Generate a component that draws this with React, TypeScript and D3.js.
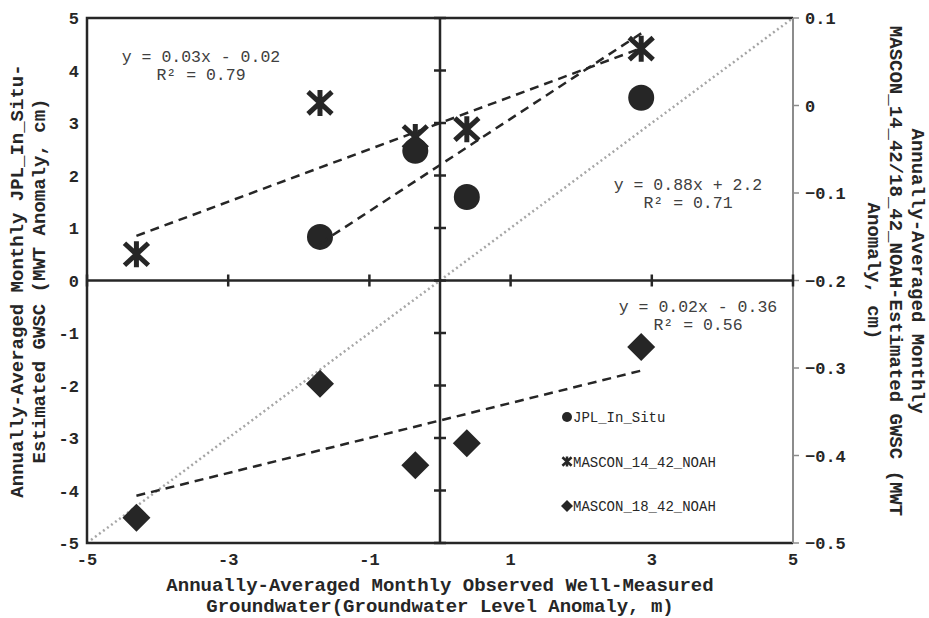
import React, { useEffect, useRef } from 'react';
import * as d3 from 'd3';

// observed groundwater anomaly (m) for each of the five years
const obsX = [-4.3, -1.7, -0.35, 0.38, 2.85];
// JPL in-situ has no value for the first year
const jplX = [-1.7, -0.35, 0.38, 2.85];
const jplY = [0.83, 2.47, 1.59, 3.48];
const mascon14 = [-0.17, 0.003, -0.036, -0.027, 0.065];
const mascon18 = [-0.471, -0.318, -0.411, -0.386, -0.276];

// trendline coefficients as printed on the chart
const jplFit = [0.88, 2.2];
const m14Fit = [0.03, -0.02];
const m18Fit = [0.02, -0.36];

const xTicks = [-5, -3, -1, 1, 3, 5];
const yTicks = [5, 4, 3, 2, 1, 0, -1, -2, -3, -4, -5];
const y2Ticks = [0.1, 0, -0.1, -0.2, -0.3, -0.4, -0.5];

const legendNames = ['JPL_In_Situ', 'MASCON_14_42_NOAH', 'MASCON_18_42_NOAH'];

const FONT = "'Courier New', 'Liberation Mono', monospace";
const INK = '#262626';

function starPath(s: number) {
  const h = s * 0.92;
  return `M0,${-s}L0,${s}M${-h},${-h * 0.92}L${h},${h * 0.92}M${-h},${h * 0.92}L${h},${-h * 0.92}`;
}

function ScatterChart() {
  const ref = useRef<SVGSVGElement>(null);

  useEffect(() => {
    const svg = d3.select(ref.current);
    svg.selectAll('*').remove();

    const left = 87, right = 793, top = 18, bottom = 543;

    const x = d3.scaleLinear().domain([-5, 5]).range([left, right]);
    const y = d3.scaleLinear().domain([-5, 5]).range([bottom, top]);
    const y2 = d3.scaleLinear().domain([-0.5, 0.1]).range([bottom, top]);

    // 1:1 line
    svg.append('line')
      .attr('x1', x(-5)).attr('y1', y(-5))
      .attr('x2', x(5)).attr('y2', y(5))
      .attr('stroke', '#a6a6a6')
      .attr('stroke-width', 2.5)
      .attr('stroke-dasharray', '2,3');

    // frame
    svg.append('path')
      .attr('d', `M${right},${top}H${left}V${bottom}H${right}`)
      .attr('fill', 'none')
      .attr('stroke', INK)
      .attr('stroke-width', 2.5);

    // secondary axis (grey, ticks outside)
    svg.append('line')
      .attr('x1', right).attr('x2', right)
      .attr('y1', top).attr('y2', bottom)
      .attr('stroke', '#8c8c8c').attr('stroke-width', 2);
    svg.append('g')
      .selectAll('line')
      .data(y2Ticks)
      .enter()
        .append('line')
        .attr('x1', right).attr('x2', right + 6)
        .attr('y1', d => y2(d)).attr('y2', d => y2(d))
        .attr('stroke', '#8c8c8c').attr('stroke-width', 1.5);

    // axes crossing at zero
    svg.append('line')
      .attr('x1', left).attr('x2', right)
      .attr('y1', y(0)).attr('y2', y(0))
      .attr('stroke', INK).attr('stroke-width', 2.5);
    svg.append('line')
      .attr('x1', x(0)).attr('x2', x(0))
      .attr('y1', top).attr('y2', bottom)
      .attr('stroke', INK).attr('stroke-width', 2.5);

    svg.append('g')
      .selectAll('line')
      .data(xTicks)
      .enter()
        .append('line')
        .attr('x1', d => x(d)).attr('x2', d => x(d))
        .attr('y1', y(0) - 6).attr('y2', y(0) + 6)
        .attr('stroke', INK).attr('stroke-width', 2.5);
    svg.append('g')
      .selectAll('line')
      .data(yTicks)
      .enter()
        .append('line')
        .attr('x1', x(0) - 6).attr('x2', x(0) + 6)
        .attr('y1', d => y(d)).attr('y2', d => y(d))
        .attr('stroke', INK).attr('stroke-width', 2.5);

    // tick labels
    const tickText = (g: any) => g
      .attr('font-family', FONT)
      .attr('font-weight', 'bold')
      .attr('font-size', 17)
      .attr('fill', INK);

    svg.append('g').call(tickText)
      .selectAll('text')
      .data(xTicks)
      .enter()
        .append('text')
        .attr('x', d => x(d))
        .attr('y', bottom + 22)
        .attr('text-anchor', 'middle')
        .text(d => String(d));

    svg.append('g').call(tickText)
      .selectAll('text')
      .data(yTicks)
      .enter()
        .append('text')
        .attr('x', left - 8)
        .attr('y', d => y(d) + 6)
        .attr('text-anchor', 'end')
        .text(d => String(d));

    svg.append('g').call(tickText)
      .selectAll('text')
      .data(y2Ticks)
      .enter()
        .append('text')
        .attr('x', right + 12)
        .attr('y', d => y2(d) + 6)
        .text(d => d3.format('.1~f')(d));

    // trendlines
    const dashed = (fit: number[], xs: number[], sy: any) => {
      const [x0, x1] = d3.extent(xs) as [number, number];
      const line = d3.line<number>()
        .x(d => x(d))
        .y(d => sy(fit[0] * d + fit[1]));
      svg.append('path')
        .attr('d', line([x0, x1]))
        .attr('fill', 'none')
        .attr('stroke', INK)
        .attr('stroke-width', 2.5)
        .attr('stroke-dasharray', '9,6');
    };

    // MASCON 18 diamonds (secondary axis)
    svg.append('g')
      .selectAll('path')
      .data(mascon18)
      .enter()
        .append('path')
        .attr('transform', (d, i) => `translate(${x(obsX[i])},${y2(d)})`)
        .attr('d', 'M0,-14L14,0L0,14L-14,0Z')
        .attr('fill', INK);

    // MASCON 14 stars (secondary axis)
    svg.append('g')
      .selectAll('path')
      .data(mascon14)
      .enter()
        .append('path')
        .attr('transform', (d, i) => `translate(${x(obsX[i])},${y2(d)})`)
        .attr('d', starPath(13))
        .attr('fill', 'none')
        .attr('stroke', INK)
        .attr('stroke-width', 5);

    // JPL circles (primary axis)
    svg.append('g')
      .selectAll('circle')
      .data(jplY)
      .enter()
        .append('circle')
        .attr('cx', (d, i) => x(jplX[i]))
        .attr('cy', d => y(d))
        .attr('r', 13)
        .attr('fill', INK);

    dashed(jplFit, jplX, y);
    dashed(m14Fit, obsX, y2);
    dashed(m18Fit, obsX, y2);

    // trendline labels
    const eqs = [
      { t1: 'y = 0.03x - 0.02', t2: 'R\u00b2 = 0.79', cx: 201, by: 62 },
      { t1: 'y = 0.88x + 2.2', t2: 'R\u00b2 = 0.71', cx: 688, by: 190 },
      { t1: 'y = 0.02x - 0.36', t2: 'R\u00b2 = 0.56', cx: 698, by: 312 },
    ];
    const eq = svg.append('g')
      .attr('font-family', FONT)
      .attr('font-size', 16.5)
      .attr('fill', '#404040')
      .attr('text-anchor', 'middle');
    eqs.forEach(e => {
      eq.append('text').attr('x', e.cx).attr('y', e.by).text(e.t1);
      eq.append('text').attr('x', e.cx).attr('y', e.by + 18).text(e.t2);
    });

    // legend
    const legend = svg.append('g')
      .attr('font-family', FONT)
      .attr('font-size', 14)
      .attr('fill', INK);
    legendNames.forEach((name, i) => {
      const ly = 417 + i * 44.5;
      const item = legend.append('g').attr('transform', `translate(567,${ly})`);
      if (i === 0) item.append('circle').attr('r', 5).attr('fill', INK);
      if (i === 1) item.append('path').attr('d', starPath(5)).attr('stroke', INK).attr('stroke-width', 2.5).attr('fill', 'none');
      if (i === 2) item.append('path').attr('d', 'M0,-6L6,0L0,6L-6,0Z').attr('fill', INK);
      item.append('text').attr('x', 6).attr('y', 5).text(name);
    });

    // axis titles
    const title = svg.append('g')
      .attr('font-family', FONT)
      .attr('font-weight', 'bold')
      .attr('font-size', 19)
      .attr('fill', INK)
      .attr('text-anchor', 'middle');

    title.append('text').attr('x', 440).attr('y', 591)
      .text('Annually-Averaged Monthly Observed Well-Measured');
    title.append('text').attr('x', 440).attr('y', 612)
      .text('Groundwater(Groundwater Level Anomaly, m)');

    const leftLines = ['Annually-Averaged Monthly JPL_In_Situ-', 'Estimated GWSC (MWT Anomaly, cm)'];
    leftLines.forEach((t, i) => {
      title.append('text')
        .attr('transform', `translate(${23 + i * 22},281) rotate(-90)`)
        .text(t);
    });

    const rightLines = ['Annually-Averaged Monthly', 'MASCON_14_42/18_42_NOAH-Estimated GWSC  (MWT', 'Anomaly, cm)'];
    rightLines.forEach((t, i) => {
      title.append('text')
        .attr('transform', `translate(${912 - i * 22},271) rotate(90)`)
        .text(t);
    });
  }, []);

  return (
    <svg ref={ref} width={929} height={618}
      style={{ position: 'absolute', left: 0, top: 0, background: '#fff' }}>
    </svg>
  );
}

export default function App() {
  return <ScatterChart />;
}
